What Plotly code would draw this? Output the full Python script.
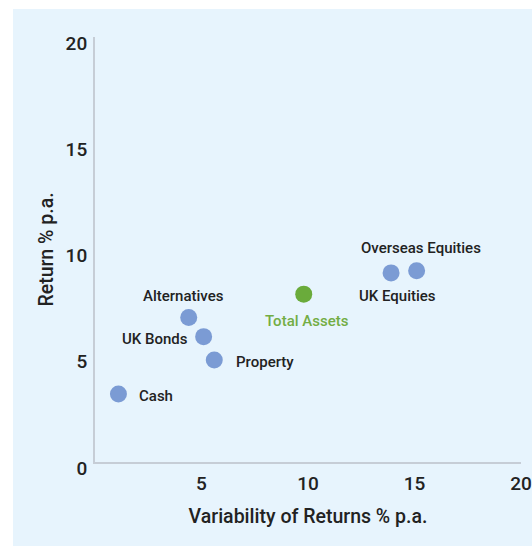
import plotly.graph_objects as go

# Risk / return of each asset class
assets = ["Cash", "UK Bonds", "Alternatives", "Property", "UK Equities", "Overseas Equities"]
variability = [1.1, 5.1, 4.4, 5.6, 13.9, 15.1]
returns = [3.2, 5.9, 6.8, 4.8, 8.9, 9.0]

total_name = "Total Assets"
total_variability = [9.8]
total_return = [7.9]

x_ticks = [5, 10, 15, 20]
y_ticks = [0, 5, 10, 15, 20]

PANEL = "#e7f4fd"
BLUE = "#7b9bd4"
GREEN = "#6aab3b"
TEXT = "#222222"
FONT = "Roboto, sans-serif"

W, H = 532, 547
L, R, T, B = 95, 11, 37, 85

# label placement per asset: (xanchor, xshift, yshift)
label_pos = {
    "Cash": ("left", 19, -2),
    "UK Bonds": ("right", -14, -2),
    "Alternatives": ("center", -5, 22),
    "Property": ("left", 20, -2),
    "UK Equities": ("center", 6, -23),
    "Overseas Equities": ("center", 4, 23),
}

fig = go.Figure()
fig.add_trace(go.Scatter(
    x=variability, y=returns, mode="markers",
    marker=dict(size=17, color=BLUE, line=dict(width=0)),
    text=assets, hoverinfo="text", showlegend=False,
))
fig.add_trace(go.Scatter(
    x=total_variability, y=total_return, mode="markers",
    marker=dict(size=17, color=GREEN, line=dict(width=0)),
    text=[total_name], hoverinfo="text", showlegend=False,
))

label_font = dict(family=FONT, size=15, color=TEXT, weight=500)
annotations = []
for name, xv, yv in zip(assets, variability, returns):
    anchor, dx, dy = label_pos[name]
    annotations.append(dict(
        x=xv, y=yv, xref="x", yref="y", text=name, showarrow=False,
        xanchor=anchor, yanchor="middle", xshift=dx, yshift=dy,
        font=label_font,
    ))
annotations.append(dict(
    x=total_variability[0], y=total_return[0], xref="x", yref="y",
    text=total_name, showarrow=False, xanchor="center", yanchor="middle",
    xshift=3, yshift=-27,
    font=dict(label_font, color="#73ad44"),
))

pw = W - L - R
ph = H - T - B
fig.update_layout(
    width=W, height=H,
    margin=dict(l=L, r=R, t=T, b=B),
    paper_bgcolor="white",
    plot_bgcolor=PANEL,
    annotations=annotations,
    shapes=[dict(
        type="rect", xref="paper", yref="paper", layer="below",
        x0=-(L - 13) / pw, x1=1 + (R + 5) / pw, y0=-(B - 1) / ph, y1=1 + (T - 9) / ph,
        fillcolor=PANEL, line=dict(width=0),
    )],
    xaxis=dict(
        range=[0, 20], tickvals=x_ticks, ticktext=[str(v) for v in x_ticks],
        automargin=False,
        showgrid=False, zeroline=False, showline=True,
        linecolor="#c6cdd6", linewidth=2,
        tickfont=dict(family=FONT, size=19, color=TEXT, weight=500),
        ticklabelstandoff=3,
        title=dict(text="Variability of Returns % p.a.", standoff=16,
                   font=dict(family=FONT, size=19.5, color=TEXT, weight=500)),
    ),
    yaxis=dict(
        range=[0, 20], tickvals=y_ticks, ticktext=[str(v) for v in y_ticks],
        automargin=False,
        showgrid=False, zeroline=False, showline=True,
        linecolor="#c6cdd6", linewidth=2,
        tickfont=dict(family=FONT, size=19, color=TEXT, weight=500),
        ticklabelstandoff=2, ticklabelshift=6,
        title=dict(text="Return % p.a.", standoff=7,
                   font=dict(family=FONT, size=19.5, color=TEXT, weight=500)),
    ),
)

fig.write_html("out.html")
